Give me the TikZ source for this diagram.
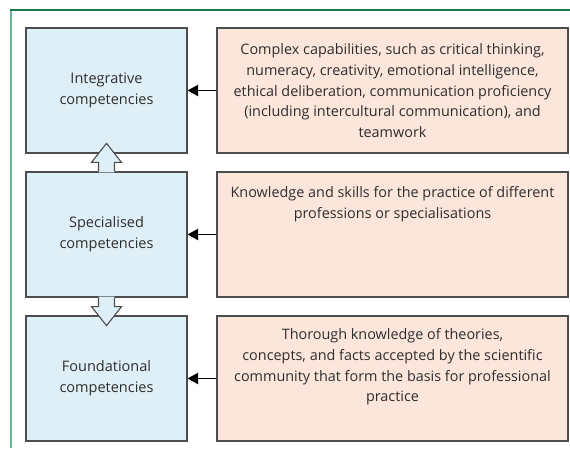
\documentclass[tikz,border=0pt]{standalone}
\usepackage{fontspec}
\setmainfont{Open Sans}
\usetikzlibrary{arrows.meta}
\definecolor{boxblue}{HTML}{DFEFF7}
\definecolor{boxpink}{HTML}{FCE6DB}
\definecolor{boxline}{HTML}{4D4D4D}
\definecolor{textgrey}{HTML}{2E2E2E}
\definecolor{framegreen}{HTML}{1B7A45}
\definecolor{framelight}{HTML}{6DB592}
\tikzset{
    level/.style = {draw=boxline, fill=boxblue, line width=1.3pt, minimum width=161pt, minimum height=125pt, inner sep=0pt, align=center, text=textgrey, font=\fontsize{14.5}{20.8}\selectfont},
    detail/.style = {draw=boxline, fill=boxpink, line width=1.3pt, minimum width=351pt, minimum height=125pt, inner sep=0pt},
    detailtext/.style = {anchor=north, align=center, inner sep=0pt, text=textgrey, font=\fontsize{14.4}{20.8}\selectfont},
    feeds/.style = {line width=1pt, -{Triangle[length=10.5pt, width=11.5pt]}},
    blockarrow/.pic = {
    \fill[boxblue] (-8,-1) -- (-8,9) -- (-15,9) -- (0,28) -- (15,9) -- (8,9) -- (8,-1) -- cycle;
    \draw[boxline, line width=1.1pt, line join=miter] (-8,0) -- (-8,9) -- (-15,9) -- (0,28) -- (15,9) -- (8,9) -- (8,0);
    }
}
\begin{document}
\begin{tikzpicture}[line cap=butt,x=1pt,y=1pt]
    \useasboundingbox (0,0) rectangle (570,449);

    % frame
    \draw [framelight, line width=1.4pt] (11,439) -- (11,1);
    \draw [framegreen, line width=1.4pt] (10.3,439) -- (570,439);

    % competency levels
    \node [level] (integ) at (106.5,358.5) {Integrative\\competencies};
    \node [level] (spec) at (106.5,214.5) {Specialised\\competencies};
    \node [level] (found) at (106.5,70.5) {Foundational\\competencies};

    % what each level holds
    \node [detail] (integdesc) at (392.5,358.5) {};
    \node [detail] (specdesc) at (392.5,214.5) {};
    \node [detail] (founddesc) at (392.5,70.5) {};
    \node [detailtext] (integtxt) at ([yshift=-16pt]integdesc.north) {Complex capabilities, such as critical thinking,\\numeracy, creativity, emotional intelligence,\\ethical deliberation, communication proficiency\\(including intercultural communication), and\\teamwork};
    \node [detailtext] (spectxt) at ([yshift=-15pt]specdesc.north) {Knowledge and skills for the practice of different\\professions or specialisations};
    \node [detailtext] (foundtxt) at ([yshift=-13pt]founddesc.north) {Thorough knowledge of theories,\\concepts, and facts accepted by the scientific\\community that form the basis for professional\\practice};

    \draw [feeds] (integdesc) -- (integ);
    \draw [feeds] (specdesc) -- (spec);
    \draw [feeds] (founddesc) -- (found);

    % block arrows between the levels
    \path (spec.north) pic {blockarrow};
    \path (spec.south) pic[rotate=180] {blockarrow};
\end{tikzpicture}
\end{document}
